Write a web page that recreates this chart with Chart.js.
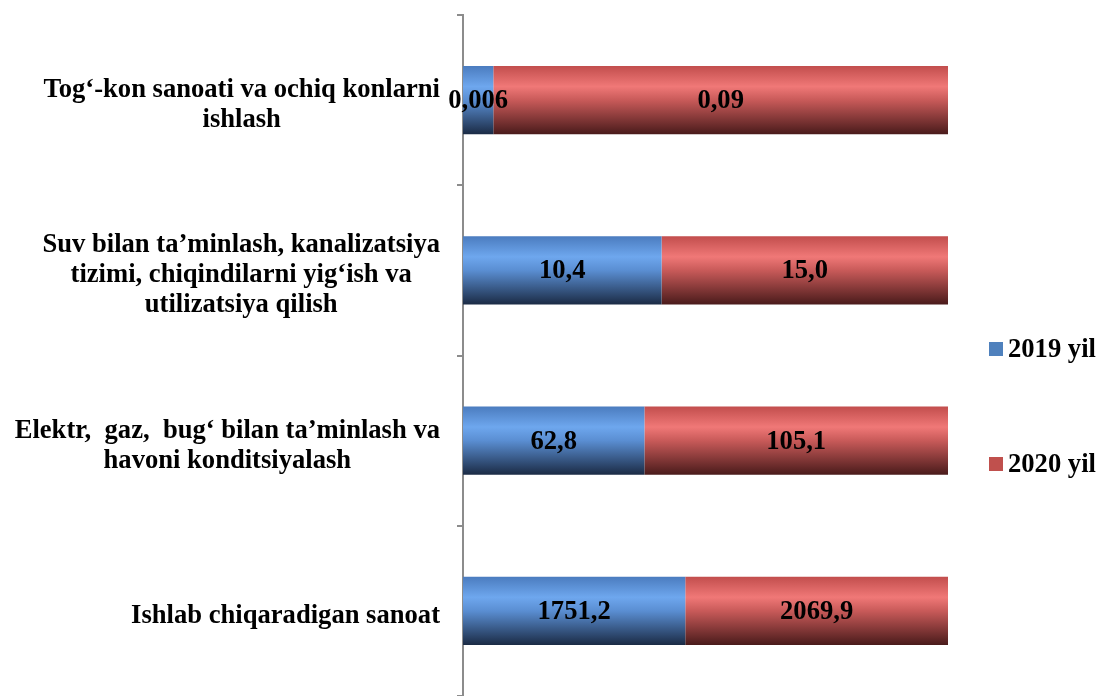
<!DOCTYPE html>
<html>
<head>
<meta charset="utf-8">
<script src="https://cdn.jsdelivr.net/npm/chart.js@4/dist/chart.umd.min.js"></script>
<style>
  html, body { margin: 0; padding: 0; background: #fff; }
  #wrap { width: 1098px; height: 696px; position: relative; }
</style>
</head>
<body>
<div id="wrap"><canvas id="myChart" width="1098" height="696"></canvas></div>
<script>
const categories = [
  ['Tog‘-kon sanoati va ochiq konlarni', 'ishlash'],
  ['Suv bilan ta’minlash, kanalizatsiya', 'tizimi, chiqindilarni yig‘ish va', 'utilizatsiya qilish'],
  ['Elektr,  gaz,  bug‘ bilan ta’minlash va', 'havoni konditsiyalash'],
  ['Ishlab chiqaradigan sanoat']
]
const values2019 = [0.006, 10.4, 62.8, 1751.2]
const values2020 = [0.09, 15.0, 105.1, 2069.9]
const labels2019 = ['0,006', '10,4', '62,8', '1751,2']
const labels2020 = ['0,09', '15,0', '105,1', '2069,9']
const seriesNames = ['2019 yil', '2020 yil']

// 100% stacked shares
const share2019 = values2019.map((v, i) => v / (v + values2020[i]) * 100)
const share2020 = values2020.map((v, i) => v / (v + values2019[i]) * 100)

const FONT = 'bold 26.6px "Liberation Serif", "Times New Roman", serif'

const barGradient = (stops) => (context) => {
  const chart = context.chart
  if (!chart.chartArea) return stops[0][1]
  const y = chart.scales.y
  const center = y.getPixelForValue(context.dataIndex)
  const half = (chart.chartArea.bottom - chart.chartArea.top) / categories.length * 0.4 / 2
  const g = chart.ctx.createLinearGradient(0, center - half, 0, center + half)
  stops.forEach(s => g.addColorStop(s[0], s[1]))
  return g
}

const blueStops = [[0, '#4b7cbf'], [0.3, '#6ea7ee'], [0.5, '#5a8ed2'], [1, '#1b2b45']]
const redStops = [[0, '#c24e4d'], [0.3, '#f07877'], [0.5, '#c85a59'], [1, '#4a1b1b']]

const labelsPlugin = {
  id: 'labelsPlugin',
  afterDraw(chart) {
    const ctx = chart.ctx
    const y = chart.scales.y
    ctx.save()
    ctx.font = FONT
    ctx.fillStyle = '#000'
    ctx.textBaseline = 'middle'
    ctx.textAlign = 'center'

    // category labels: block right-aligned, lines centered
    const right = 440
    const lh = 30
    categories.forEach((lines, i) => {
      const w = Math.max(...lines.map(l => ctx.measureText(l).width))
      const cx = right - w / 2
      const cy = y.getPixelForValue(i)
      lines.forEach((l, k) => {
        ctx.fillText(l, cx, cy + (k - (lines.length - 1) / 2) * lh + 5)
      })
    })

    // data labels
    const texts = [labels2019, labels2020]
    chart.data.datasets.forEach((ds, d) => {
      chart.getDatasetMeta(d).data.forEach((el, i) => {
        ctx.fillText(texts[d][i], (el.x + el.base) / 2, el.y + 1)
      })
    })

    // legend
    const legendY = [349, 464]
    const legendCol = ['#4f81bd', '#c0504d']
    ctx.textAlign = 'left'
    seriesNames.forEach((name, i) => {
      ctx.fillStyle = legendCol[i]
      ctx.fillRect(989, legendY[i] - 7, 14, 14)
      ctx.fillStyle = '#000'
      ctx.fillText(name, 1008, legendY[i] + 1)
    })
    ctx.restore()
  }
}

new Chart(document.getElementById('myChart'), {
  type: 'bar',
  data: {
    labels: categories.map(c => c.join(' ')),
    datasets: [{
      label: seriesNames[0],
      data: share2019,
      backgroundColor: barGradient(blueStops),
      borderWidth: 0,
      categoryPercentage: 0.8,
      barPercentage: 0.5
    }, {
      label: seriesNames[1],
      data: share2020,
      backgroundColor: barGradient(redStops),
      borderWidth: 0,
      categoryPercentage: 0.8,
      barPercentage: 0.5
    }]
  },
  options: {
    indexAxis: 'y',
    responsive: false,
    animation: false,
    layout: { padding: { top: 15, right: 150, bottom: -3, left: 0 } },
    plugins: {
      legend: { display: false },
      tooltip: { enabled: false }
    },
    scales: {
      x: { stacked: true, min: 0, max: 100, display: false },
      y: {
        stacked: true,
        ticks: { display: false },
        grid: { drawOnChartArea: false, drawTicks: true, tickLength: 6, color: '#8c8c8c', lineWidth: 2 },
        border: { display: true, color: '#8c8c8c', width: 2 },
        afterFit: (scale) => { scale.width = 463 }
      }
    }
  },
  plugins: [labelsPlugin]
})
</script>
</body>
</html>
